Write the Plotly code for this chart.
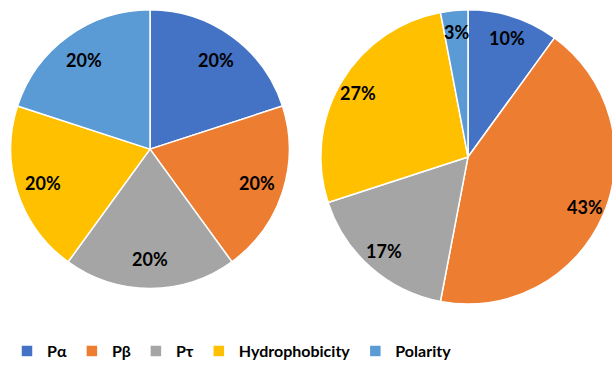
import math
import plotly.graph_objects as go

categories = ["Pα", "Pβ", "Pτ", "Hydrophobicity", "Polarity"]
left_values = [20, 20, 20, 20, 20]
right_values = [10, 43, 17, 27, 3]
colors = ["#4472C4", "#ED7D31", "#A5A5A5", "#FFC000", "#5B9BD5"]

# the canvas is slightly wider than the window so the right disc runs off the edge
W, H = 620, 368
FONT = "Lato"

# pie geometry in pixels: centre and radius of each disc
LEFT = dict(cx=150, cy=152, r=142, label_k=0.79)
RIGHT = dict(cx=468, cy=160, r=150, label_k=0.85)


def domain_of(g):
    return dict(
        x=[(g["cx"] - g["r"]) / W, (g["cx"] + g["r"]) / W],
        y=[1 - (g["cy"] + g["r"]) / H, 1 - (g["cy"] - g["r"]) / H],
    )


def pie(values, g):
    return go.Pie(
        labels=categories,
        values=values,
        sort=False,
        direction="clockwise",
        rotation=0,
        marker=dict(colors=colors, line=dict(color="white", width=1.5)),
        textinfo="none",
        domain=domain_of(g),
        hoverinfo="label+percent",
    )


def percent_labels(values, g):
    """Percent labels placed along each slice's mid-angle."""
    total = sum(values)
    out = []
    cum = 0.0
    for v in values:
        mid = (cum + v / 2) / total
        cum += v
        theta = 2 * math.pi * mid
        px = g["cx"] + g["label_k"] * g["r"] * math.sin(theta)
        py = g["cy"] - g["label_k"] * g["r"] * math.cos(theta)
        out.append(dict(
            x=px / W, y=1 - py / H, xref="paper", yref="paper",
            text=f"{round(100 * v / total)}%", showarrow=False,
            xanchor="center", yanchor="middle",
            font=dict(family=FONT, size=18, color="black", weight="bold"),
        ))
    return out


fig = go.Figure()
fig.add_trace(pie(left_values, LEFT))
fig.add_trace(pie(right_values, RIGHT))

fig.update_layout(
    width=W,
    height=H,
    margin=dict(l=0, r=0, t=0, b=0),
    paper_bgcolor="white",
    plot_bgcolor="white",
    annotations=percent_labels(left_values, LEFT) + percent_labels(right_values, RIGHT),
    legend=dict(
        orientation="h",
        x=232 / W,
        xanchor="center",
        y=1 - 358 / H,
        yanchor="middle",
        font=dict(family=FONT, size=16, color="black", weight="bold"),
        itemwidth=30,
        tracegroupgap=0,
    ),
)

fig.write_html(
    "out.html",
    post_script="document.body.style.margin='0';document.body.style.overflow='hidden';",
)
